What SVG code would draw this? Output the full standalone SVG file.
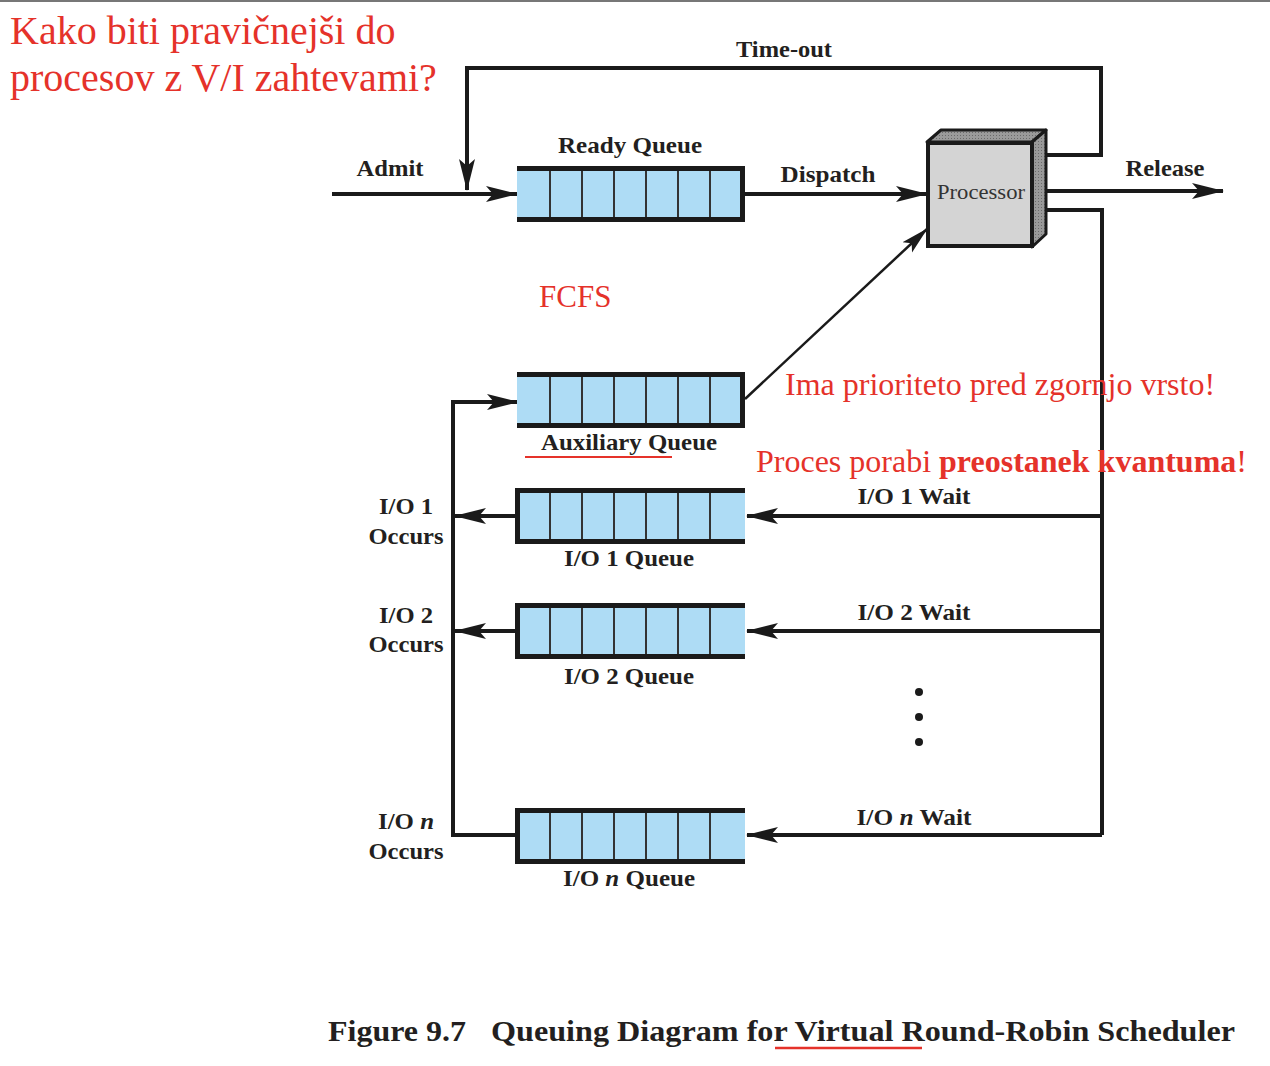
<svg xmlns="http://www.w3.org/2000/svg" width="1270" height="1066" viewBox="0 0 1270 1066">
<style>
.lbl{font-family:"Liberation Serif",serif;font-weight:bold;font-size:24px;fill:#231f20;text-anchor:middle}
.red{font-family:"Liberation Serif",serif;fill:#e5322a}
.ln{stroke:#1a1a1a;stroke-width:4;fill:none}
.bar{stroke:#1a1a1a;stroke-width:5;fill:none}
.cell{stroke:#333;stroke-width:2}
.qfill{fill:#aedcf5}
</style>
<defs>
<marker id="ah" markerUnits="userSpaceOnUse" markerWidth="32" markerHeight="20" viewBox="0 0 32 20" refX="31" refY="10" orient="auto">
<path d="M0,2 L32,10 L0,18 L7,10 z" fill="#1a1a1a"/>
</marker>
<marker id="ahs" markerUnits="userSpaceOnUse" markerWidth="28" markerHeight="18" viewBox="0 0 28 18" refX="27" refY="9" orient="auto">
<path d="M0,2 L28,9 L0,16 L6,9 z" fill="#1a1a1a"/>
</marker>
<pattern id="dots" width="3" height="3" patternUnits="userSpaceOnUse">
<rect width="3" height="3" fill="#9a9a9a"/>
<rect width="1" height="1" fill="#6a6a6a"/>
</pattern>
<g id="cells">
<rect class="qfill" x="0" y="2" width="228" height="52"/>
<line class="cell" x1="33" y1="2" x2="33" y2="54"/>
<line class="cell" x1="65" y1="2" x2="65" y2="54"/>
<line class="cell" x1="97" y1="2" x2="97" y2="54"/>
<line class="cell" x1="129" y1="2" x2="129" y2="54"/>
<line class="cell" x1="161" y1="2" x2="161" y2="54"/>
<line class="cell" x1="193" y1="2" x2="193" y2="54"/>
<line class="bar" x1="0" y1="2.5" x2="228" y2="2.5"/>
<line class="bar" x1="0" y1="53.5" x2="228" y2="53.5"/>
</g>
</defs>
<rect x="0" y="0" width="1270" height="1066" fill="#fff"/>
<line x1="0" y1="1" x2="1270" y2="1" stroke="#777" stroke-width="2"/>

<g id="connectors">
<polyline class="ln" points="1037,155 1101,155 1101,68 467,68 467,190" marker-end="url(#ah)"/>
<line class="ln" x1="332" y1="194" x2="517" y2="194" marker-end="url(#ah)"/>
<line class="ln" x1="745" y1="194" x2="927" y2="194" marker-end="url(#ah)"/>
<line class="ln" x1="1037" y1="191" x2="1223" y2="191" marker-end="url(#ah)"/>
<line x1="745" y1="399" x2="927" y2="229" stroke="#1a1a1a" stroke-width="2.5" marker-end="url(#ahs)"/>
<polyline class="ln" points="1037,210 1102,210 1102,835"/>
<line class="ln" x1="1102" y1="516" x2="747" y2="516" marker-end="url(#ah)"/>
<line class="ln" x1="1102" y1="631" x2="747" y2="631" marker-end="url(#ah)"/>
<line class="ln" x1="1102" y1="835" x2="747" y2="835" marker-end="url(#ah)"/>
<polyline class="ln" points="515,835 453,835 453,402 518,402" marker-end="url(#ah)"/>
<line class="ln" x1="515" y1="516" x2="455" y2="516" marker-end="url(#ah)"/>
<line class="ln" x1="515" y1="631" x2="455" y2="631" marker-end="url(#ah)"/>
<circle cx="919" cy="692" r="4" fill="#1a1a1a"/>
<circle cx="919" cy="717" r="4" fill="#1a1a1a"/>
<circle cx="919" cy="742" r="4" fill="#1a1a1a"/>
</g>

<g id="ready-queue">
<use href="#cells" x="517" y="166"/>
<line class="bar" x1="742.5" y1="166" x2="742.5" y2="222"/>
<text class="lbl" x="630" y="153" textLength="144" lengthAdjust="spacingAndGlyphs">Ready Queue</text>
</g>

<g id="aux-queue">
<use href="#cells" x="517" y="372"/>
<line class="bar" x1="742.5" y1="372" x2="742.5" y2="428"/>
<text class="lbl" x="629" y="450" textLength="176" lengthAdjust="spacingAndGlyphs">Auxiliary Queue</text>
<line x1="525" y1="457" x2="672" y2="457" stroke="#e5322a" stroke-width="2"/>
</g>

<g id="io1-queue">
<use href="#cells" x="517" y="488"/>
<line class="bar" x1="517.5" y1="488" x2="517.5" y2="544"/>
<text class="lbl" x="629" y="566" textLength="130" lengthAdjust="spacingAndGlyphs">I/O 1 Queue</text>
</g>

<g id="io2-queue">
<use href="#cells" x="517" y="603"/>
<line class="bar" x1="517.5" y1="603" x2="517.5" y2="659"/>
<text class="lbl" x="629" y="684" textLength="130" lengthAdjust="spacingAndGlyphs">I/O 2 Queue</text>
</g>

<g id="ion-queue">
<use href="#cells" x="517" y="808"/>
<line class="bar" x1="517.5" y1="808" x2="517.5" y2="864"/>
<text class="lbl" x="629" y="886" textLength="132" lengthAdjust="spacingAndGlyphs">I/O <tspan font-style="italic">n</tspan> Queue</text>
</g>

<g id="processor">
<polygon points="927,142 941,130 1046,130 1032,142" fill="url(#dots)" stroke="#1a1a1a" stroke-width="3" stroke-linejoin="round"/>
<polygon points="1032,142 1046,130 1046,234 1032,247" fill="url(#dots)" stroke="#1a1a1a" stroke-width="3" stroke-linejoin="round"/>
<rect x="928" y="143" width="104" height="103" fill="#d4d4d4" stroke="#1a1a1a" stroke-width="4"/>
<text x="981" y="199" font-family="Liberation Serif,serif" font-size="22" fill="#333" text-anchor="middle" textLength="88" lengthAdjust="spacingAndGlyphs">Processor</text>
</g>

<g id="labels">
<text class="lbl" x="784" y="57" textLength="96" lengthAdjust="spacingAndGlyphs">Time-out</text>
<text class="lbl" x="390" y="176" textLength="67" lengthAdjust="spacingAndGlyphs">Admit</text>
<text class="lbl" x="828" y="182" textLength="95" lengthAdjust="spacingAndGlyphs">Dispatch</text>
<text class="lbl" x="1165" y="176" textLength="79" lengthAdjust="spacingAndGlyphs">Release</text>
<text class="lbl" x="406" y="514" textLength="54" lengthAdjust="spacingAndGlyphs">I/O 1</text>
<text class="lbl" x="406" y="544" textLength="75" lengthAdjust="spacingAndGlyphs">Occurs</text>
<text class="lbl" x="406" y="623" textLength="54" lengthAdjust="spacingAndGlyphs">I/O 2</text>
<text class="lbl" x="406" y="652" textLength="75" lengthAdjust="spacingAndGlyphs">Occurs</text>
<text class="lbl" x="406" y="829" textLength="56" lengthAdjust="spacingAndGlyphs">I/O <tspan font-style="italic">n</tspan></text>
<text class="lbl" x="406" y="859" textLength="75" lengthAdjust="spacingAndGlyphs">Occurs</text>
<text class="lbl" x="914" y="504" textLength="113" lengthAdjust="spacingAndGlyphs">I/O 1 Wait</text>
<text class="lbl" x="914" y="620" textLength="113" lengthAdjust="spacingAndGlyphs">I/O 2 Wait</text>
<text class="lbl" x="914" y="825" textLength="115" lengthAdjust="spacingAndGlyphs">I/O <tspan font-style="italic">n</tspan> Wait</text>
</g>

<g id="caption">
<text x="328" y="1041" font-family="Liberation Serif,serif" font-weight="bold" font-size="30" fill="#231f20" textLength="138" lengthAdjust="spacingAndGlyphs">Figure 9.7</text>
<text x="491" y="1041" font-family="Liberation Serif,serif" font-weight="bold" font-size="30" fill="#231f20" textLength="744" lengthAdjust="spacingAndGlyphs">Queuing Diagram for Virtual Round-Robin Scheduler</text>
<line x1="775" y1="1048" x2="922" y2="1048" stroke="#e5322a" stroke-width="2.5"/>
</g>

<g id="notes">
<text class="red" x="10" y="44" font-size="40">Kako biti pravičnejši do</text>
<text class="red" x="10" y="91" font-size="40">procesov z V/I zahtevami?</text>
<text class="red" x="539" y="307" font-size="31">FCFS</text>
<text class="red" x="785" y="395" font-size="32">Ima prioriteto pred zgornjo vrsto!</text>
<text class="red" x="756" y="472" font-size="32">Proces porabi <tspan font-weight="bold">preostanek kvantuma</tspan>!</text>
</g>
</svg>
